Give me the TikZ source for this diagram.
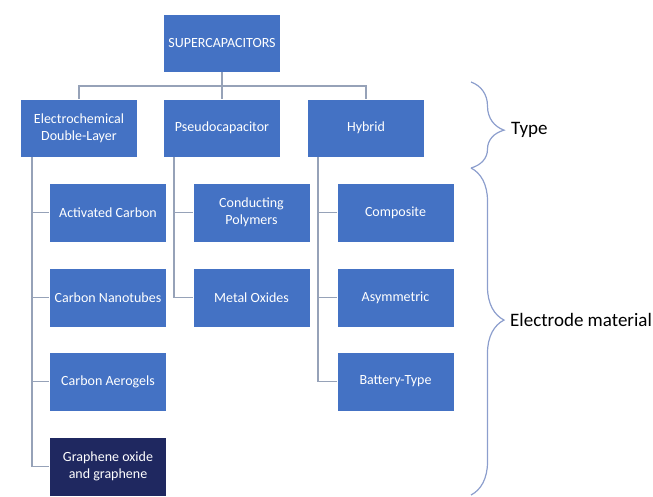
\documentclass[tikz,border=0pt]{standalone}
\usepackage{fontspec}
\setmainfont{Carlito}
\usetikzlibrary{decorations.pathreplacing}

\definecolor{boxblue}{RGB}{68,114,196}
\definecolor{boxnavy}{RGB}{31,40,96}
\definecolor{linkgray}{RGB}{150,162,184}
\definecolor{bracegray}{RGB}{140,158,205}

\begin{document}
\begin{tikzpicture}[
                x=1pt, y=-1pt,
                box/.style={rectangle, fill=boxblue, draw=white, line width=0.8,
                    text=white, align=center, inner sep=0pt,
                    minimum width=117, minimum height=59,
                    font=\fontsize{14}{17}\selectfont},
                link/.style={draw=linkgray, line width=1.3},
                curly/.style={draw=bracegray, line width=1.2, decorate},
                side/.style={anchor=west, inner sep=0pt, font=\fontsize{19}{22}\selectfont}
            ]
                \useasboundingbox (0,0) rectangle (653,497);

                \node[box, minimum height=58] (root) at (222,43) {SUPERCAPACITORS};

                \node[box, minimum height=58] (edl) at (79,128) {Electrochemical\\Double-Layer};
                \node[box, minimum height=58] (pseudo) at (222,128) {Pseudocapacitor};
                \node[box, minimum height=58] (hybrid) at (366,128) {Hybrid};

                \node[box] (actc) at (108,212.5) {Activated Carbon};
                \node[box] (cnt) at (108,297.5) {Carbon Nanotubes};
                \node[box] (aero) at (108,381.5) {Carbon Aerogels};
                \node[box, fill=boxnavy] (graph) at (108,466.5) {Graphene oxide\\and graphene};

                \node[box] (poly) at (251.5,212.5) {Conducting\\Polymers};
                \node[box] (metox) at (251.5,297.5) {Metal Oxides};

                \node[box] (comp) at (395.5,212.5) {Composite};
                \node[box] (asym) at (395.5,297.5) {Asymmetric};
                \node[box] (batt) at (395.5,381.5) {Battery-Type};

                \coordinate (bus) at (0,86);
                \draw[link] (root.south) -- (pseudo.north);
                \draw[link] (edl.north) |- (hybrid.north |- bus) -- (hybrid.north);

                \coordinate (edltrunk) at (32,157);
                \coordinate (pseudotrunk) at (174,157);
                \coordinate (hybridtrunk) at (318,157);

                \draw[link] (edltrunk) |- (graph.west);
                \foreach \kid in {actc, cnt, aero}
                    \draw[link] (edltrunk |- \kid.west) -- (\kid.west);
                \draw[link] (pseudotrunk) |- (metox.west);
                \draw[link] (pseudotrunk |- poly.west) -- (poly.west);
                \draw[link] (hybridtrunk) |- (batt.west);
                \foreach \kid in {comp, asym}
                    \draw[link] (hybridtrunk |- \kid.west) -- (\kid.west);

                \coordinate (typetop) at (471,82);
                \coordinate (typebot) at (471,168);
                \coordinate (eltop) at (471,168);
                \coordinate (elbot) at (471,495);
                \draw[curly, decoration={brace, amplitude=33, aspect=0.56}] (typetop) -- (typebot);
                \draw[curly, decoration={brace, amplitude=33, aspect=0.465}] (eltop) -- (elbot);

                \node[side] (typelabel) at (511,130) {Type};
                \node[side] (ellabel) at (510,320) {Electrode material};
\end{tikzpicture}
\end{document}
